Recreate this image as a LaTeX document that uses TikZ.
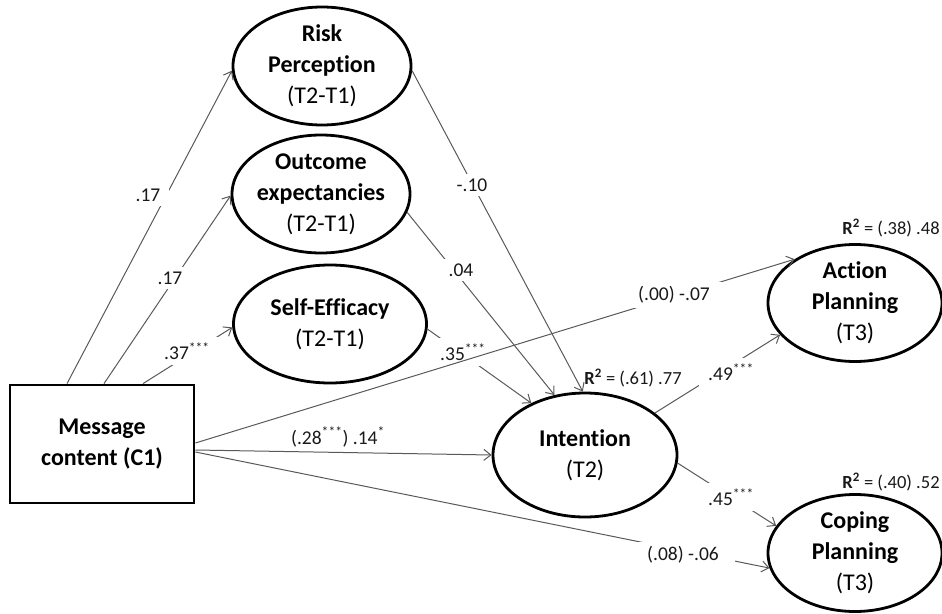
\documentclass[tikz,border=0pt]{standalone}
\usepackage{fontspec}
\setmainfont{Carlito}[Ligatures=NoCommon]
\usetikzlibrary{shapes.geometric,arrows.meta}

\tikzset{
  factor/.style={ellipse, draw=black, line width=2.8pt, inner sep=0pt, align=center,
    font=\fontsize{24}{31}\selectfont},
  manifest/.style={rectangle, draw=black, line width=2.8pt, minimum width=184pt,
    minimum height=118pt, align=center, font=\fontsize{24}{31}\selectfont},
  link/.style={->, draw=black!65, line width=1pt},
  coef/.style={fill=white, text=black!90, inner xsep=9pt, inner ysep=5pt,
    font=\fontsize{19.5}{22}\selectfont},
  rsq/.style={inner sep=0pt, text=black!90, font=\fontsize{18.5}{20}\selectfont}
}

\begin{document}
\begin{tikzpicture}[x=1pt, y=-1pt, >={Straight Barb[length=7pt,width=11pt]}]
    \useasboundingbox (0,0) rectangle (942,613);

    % --- Konstrukte ---
    \node[manifest] (msg) at (102,444) {\textbf{Message}\\\textbf{content (C1)}};
    \node[factor, minimum width=178pt, minimum height=118pt] (risk) at (322,66)
        {\textbf{Risk}\\\textbf{Perception}\\(T2-T1)};
    \node[factor, inner xsep=-3pt, minimum width=178pt, minimum height=118pt] (outc) at (321,194)
        {\textbf{Outcome}\\\textbf{expectancies}\\(T2-T1)};
    \node[factor, minimum width=193pt, minimum height=118pt] (seff) at (330,324)
        {\textbf{Self-Efficacy}\\(T2-T1)};
    \node[factor, minimum width=184pt, minimum height=124pt] (intent) at (585,455)
        {\textbf{Intention}\\(T2)};
    \node[factor, minimum width=174pt, minimum height=117pt] (actpl) at (855,303)
        {\textbf{Action}\\\textbf{Planning}\\(T3)};
    \node[factor, minimum width=174pt, minimum height=117pt] (coppl) at (855,553)
        {\textbf{Coping}\\\textbf{Planning}\\(T3)};

    % --- Pfade ---
    % Message -> Veraenderungen
    \draw[link] ([xshift=-35pt]msg.north) -- (risk.183);
    \draw[link] ([xshift=2pt]msg.north) -- (outc.181);
    \draw[link] ([xshift=41pt]msg.north) -- (seff.182);
    % Veraenderungen -> Intention
    \draw[link] (risk.-3) -- (intent.92);
    \draw[link] (outc.-12) -- (intent.117);
    \draw[link] (seff.-3) -- (intent.136);
    % direkte Pfade von Message
    \draw[link] ([yshift=-6pt]msg.east) -- (intent.180);
    \draw[link] ([yshift=-8pt]msg.east) -- (coppl.190);
    % Intention -> Planung
    \draw[link] (intent.31) -- (actpl.203);
    \draw[link] (intent.-5) -- (coppl.161);

    % --- Koeffizienten ---
    \node[coef] (c1) at (148,195) {.17};
    \node[coef] (c2) at (170,278) {.17};
    \node[coef] (c3) at (187,351) {.37\textsuperscript{***}};
    \node[coef] (c4) at (472,185) {-.10};
    \node[coef] (c5) at (461,270) {.04};
    \node[coef] (c6) at (463,352) {.35\textsuperscript{***}};
    \node[coef, fill=none, inner ysep=1pt] (c7) at (338,437) {(.28\textsuperscript{***}) .14\textsuperscript{*}};

    % langer Pfad erst nach .35 (laeuft darunter durch)
    \draw[link] ([yshift=1pt]msg.east) -- (actpl.144);

    \node[coef, inner xsep=16pt] (c8) at (674,295) {(.00) -.07};
    \node[coef, inner xsep=16pt] (c9) at (683,555) {(.08) -.06};
    \node[coef] (c10) at (731,372) {.49\textsuperscript{***}};
    \node[coef] (c11) at (731,497) {.45\textsuperscript{***}};

    % --- erklaerte Varianz ---
    \node[rsq] (r1) at (633,378) {\textbf{R\textsuperscript{2}} = (.61) .77};
    \node[rsq] (r2) at (891,228) {\textbf{R\textsuperscript{2}} = (.38) .48};
    \node[rsq] (r3) at (891,482) {\textbf{R\textsuperscript{2}} = (.40) .52};
\end{tikzpicture}
\end{document}
